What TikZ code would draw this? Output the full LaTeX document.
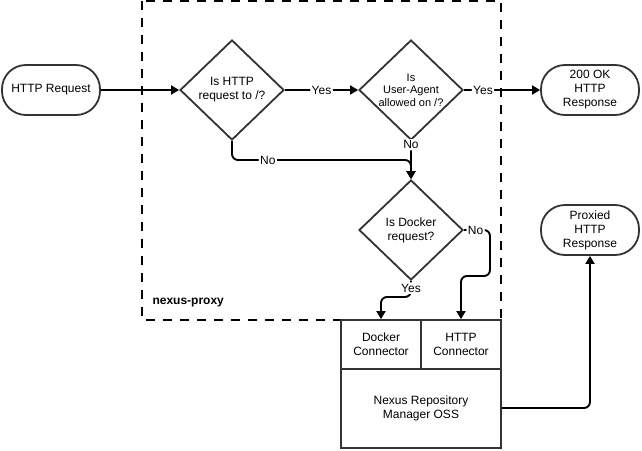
\documentclass[tikz,border=0pt]{standalone}
\usepackage{fontspec}
\setmainfont{Liberation Sans}
\usetikzlibrary{shapes.geometric,arrows.meta}
\begin{document}
\begin{tikzpicture}[x=1pt,y=-1pt,
  every node/.style={font=\fontsize{12}{14}\selectfont},
  term/.style={draw=black!80,line width=1.8pt,rounded corners=24pt,minimum width=98pt,minimum height=50pt,align=center,inner sep=0pt},
  dia/.style={draw=black!80,line width=1.8pt,diamond,minimum width=104pt,minimum height=100pt,inner sep=0pt,align=center},
  blk/.style={draw=black!80,line width=1.8pt,minimum width=80pt,minimum height=49pt,align=center,inner sep=0pt},
  conn/.style={draw=black,line width=1.9pt,rounded corners=6pt,-{Triangle[length=8pt,width=9pt]}},
  lbl/.style={fill=white,inner sep=1.5pt},
  boundary/.style={draw=black,line width=1.2pt,dash pattern=on 9pt off 8pt}]
\useasboundingbox (0,0) rectangle (642,450);
% dashed boundary
\draw[boundary] (142,1) rectangle (501,320);
\node[anchor=west,font=\fontsize{12}{14}\selectfont\bfseries] (np) at (149,303) {nexus-proxy};
% nodes
\node[term] (req) at (51,90) {HTTP Request};
\node[dia] (d1) at (232,90) {Is HTTP\\request to /?};
\node[dia,font=\fontsize{11}{12.5}\selectfont] (d2) at (411,90) {Is\\User-Agent\\allowed on /?};
\node[term] (ok) at (590,90) {200 OK\\HTTP\\Response};
\node[dia] (d3) at (411,230) {Is Docker\\request?};
\node[term] (px) at (590,230) {Proxied\\HTTP\\Response};
\node[blk,fill=white] (dc) at (381,344.5) {Docker\\Connector};
\node[blk,fill=white] (hc) at (461,344.5) {HTTP\\Connector};
\node[draw=black!80,line width=1.8pt,minimum width=160pt,minimum height=79pt,align=center,inner sep=0pt] (nx) at (421,408.5) {Nexus Repository\\Manager OSS};
% coordinates
\coordinate (n1) at (232,160);
\coordinate (n2) at (411,160);
\coordinate (e1) at (490,230);
\coordinate (e2) at (490,276);
\coordinate (e3) at (461,276);
\coordinate (s1) at (411,297);
\coordinate (s2) at (381,297);
\coordinate (r1) at (590,408);
% connectors
\draw[conn] (req.east) -- (d1.west);
\draw[conn] (d1.east) -- node[lbl,pos=0.5] {Yes} (d2.west);
\draw[conn] (d2.east) -- node[lbl,pos=0.25] {Yes} (ok.west);
\draw[conn] (d1.south) -- (n1) -- node[lbl,pos=0.2] {No} (n2) -- (d3.north);
\draw[conn] (d2.south) -- node[lbl,pos=0.1] {No} (d3.north);
\draw[conn] (d3.east) -- node[lbl,pos=0.45] {No} (e1) -- (e2) -- (e3) -- (hc.north);
\draw[conn] (d3.south) -- node[lbl,pos=0.45] {Yes} (s1) -- (s2) -- (dc.north);
\draw[conn] (nx.east |- r1) -- (r1) -- (px.south);
\end{tikzpicture}
\end{document}
